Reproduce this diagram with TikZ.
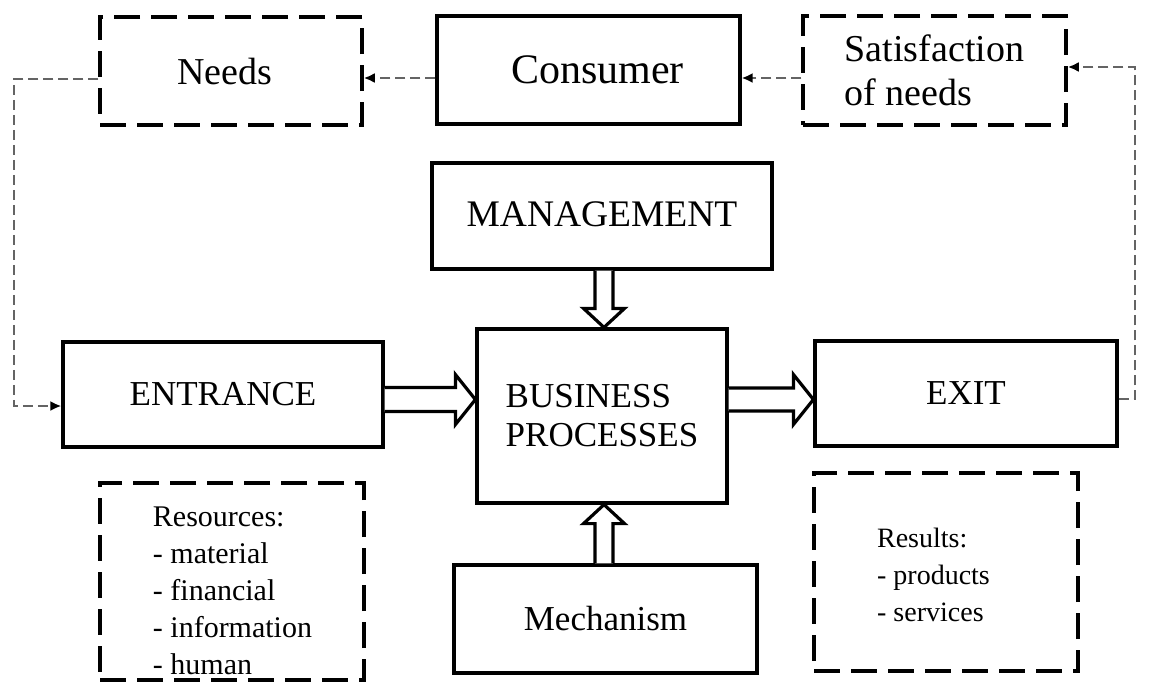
\documentclass[tikz,border=0pt]{standalone}
\usepackage{fontspec}
\setmainfont{Liberation Serif}
\usetikzlibrary{calc,arrows.meta}
\definecolor{conncol}{RGB}{100,100,100}
\begin{document}
\begin{tikzpicture}[x=1pt,y=-1pt,
  box/.style={draw=black,line width=3.2pt,fill=white,inner sep=0pt},
  dbox/.style={draw=black,line width=3.5pt,dash pattern=on 26pt off 11pt,inner sep=0pt},
  conn/.style={draw=conncol,line width=2.5pt,dash pattern=on 10pt off 5pt,-{Latex[length=11pt,width=10pt,color=black]}},
  blk/.style={draw=black,line width=3.2pt,fill=white,line join=miter},
  txt/.style={inner sep=0pt,align=left}]
\useasboundingbox (0,0) rectangle (1154,681);
% top row
\node[dbox,minimum width=262pt,minimum height=108pt,font=\fontsize{38}{44}\selectfont] (needs) at (231,71) {Needs\hspace*{12pt}};
\node[box,minimum width=303pt,minimum height=108pt,font=\fontsize{42}{48}\selectfont] (cons) at (588.5,70) {\hspace*{18pt}Consumer};
\node[dbox,minimum width=263pt,minimum height=109pt,align=left,font=\fontsize{38}{44}\selectfont] (sat) at (934.5,70.5) {Satisfaction\\of needs};
% middle
\node[box,minimum width=340pt,minimum height=106pt,font=\fontsize{37.5}{42}\selectfont] (mg) at (602,216) {\raisebox{4pt}{MANAGEMENT}};
\node[box,minimum width=320pt,minimum height=105pt,font=\fontsize{35}{40}\selectfont] (ent) at (223,394.5) {ENTRANCE};
\node[box,minimum width=250pt,minimum height=174pt,align=left,font=\fontsize{35}{39}\selectfont] (bp) at (602,416) {BUSINESS\\PROCESSES};
\node[box,minimum width=302pt,minimum height=105pt,font=\fontsize{35}{40}\selectfont] (exit) at (966,393.5) {EXIT};
\node[box,minimum width=303pt,minimum height=108pt,font=\fontsize{35}{40}\selectfont] (mech) at (605.5,619) {Mechanism};
% bottom dashed boxes
\node[dbox,minimum width=264pt,minimum height=197pt] (res) at (232,581.5) {};
\node[txt,font=\fontsize{30}{37}\selectfont] (restxt) at (232.5,591) {Resources:\\- material\\- financial\\- information\\- human};
\node[dbox,minimum width=264pt,minimum height=198pt] (rsl) at (946,572) {};
\node[txt,font=\fontsize{28}{37}\selectfont] (rsltxt) at (933.5,575) {Results:\\- products\\- services};
% dashed connectors
\coordinate (ya) at (0,78);
\coordinate (lx) at (14,79);
\coordinate (ey) at (0,406);
\coordinate (rx) at (1135,399);
\coordinate (sy) at (0,67);
\draw[conn] (cons.west |- ya) -- (needs.east |- ya);
\draw[conn] (sat.west |- ya) -- (cons.east |- ya);
\draw[conn] (needs.west |- lx) -- (lx) |- (ent.west |- ey);
\draw[conn] (exit.east |- rx) -- (rx) |- (sat.east |- sy);
% block arrows
\coordinate (cx) at (604,0);
\coordinate (ay) at (0,399.5);
\draw[blk] ($(mg.south -| cx)+(-9,0)$) -- ($(bp.north -| cx)+(-9,-19)$) -- ($(bp.north -| cx)+(-20.5,-19)$) -- (bp.north -| cx) -- ($(bp.north -| cx)+(20.5,-19)$) -- ($(bp.north -| cx)+(9,-19)$) -- ($(mg.south -| cx)+(9,0)$);
\draw[blk] ($(mech.north -| cx)+(-9,0)$) -- ($(bp.south -| cx)+(-9,19)$) -- ($(bp.south -| cx)+(-20.5,19)$) -- (bp.south -| cx) -- ($(bp.south -| cx)+(20.5,19)$) -- ($(bp.south -| cx)+(9,19)$) -- ($(mech.north -| cx)+(9,0)$);
\draw[blk] ($(ent.east |- ay)+(0,-12)$) -- ($(bp.west |- ay)+(-20,-12)$) -- ($(bp.west |- ay)+(-20,-25)$) -- (bp.west |- ay) -- ($(bp.west |- ay)+(-20,25)$) -- ($(bp.west |- ay)+(-20,12)$) -- ($(ent.east |- ay)+(0,12)$);
\draw[blk] ($(bp.east |- ay)+(0,-11.5)$) -- ($(exit.west |- ay)+(-20,-11.5)$) -- ($(exit.west |- ay)+(-20,-25)$) -- (exit.west |- ay) -- ($(exit.west |- ay)+(-20,25)$) -- ($(exit.west |- ay)+(-20,11.5)$) -- ($(bp.east |- ay)+(0,11.5)$);
\end{tikzpicture}
\end{document}
